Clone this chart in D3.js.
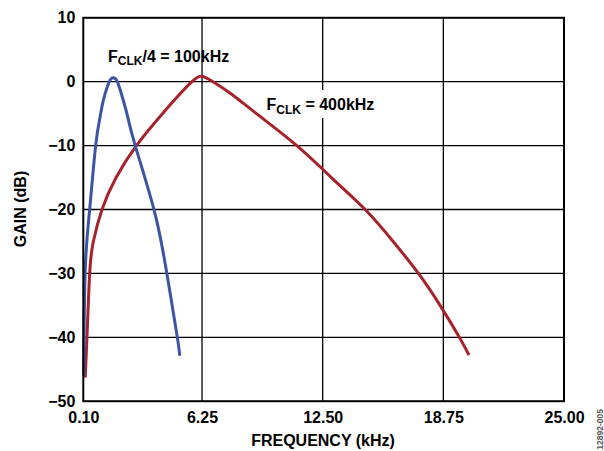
<!DOCTYPE html>
<html>
<head>
<meta charset="utf-8">
<script src="https://cdn.jsdelivr.net/npm/d3@7/dist/d3.min.js"></script>
<style>
  html, body { margin: 0; padding: 0; background: #fff; }
  svg { display: block; }
  text { font-family: "Liberation Sans", Arial, Helvetica, sans-serif; font-weight: bold; fill: #000; }
</style>
</head>
<body>
<svg id="chart" width="604" height="451"></svg>
<script>
// Axis ticks
const xTicks = [0.1, 6.25, 12.5, 18.75, 25];
const yTicks = [10, 0, -10, -20, -30, -40, -50];

// FCLK/4 = 100kHz response
const quarterFreq = [0.12, 0.20, 0.43, 0.74, 0.97, 1.14, 1.45, 1.65, 1.86, 2.17, 2.40, 2.79, 3.76, 4.40, 4.97, 5.09];
const quarterGain = [-46, -29.5, -20, -10, -5.5, -2.9, 0, 0.6, 0, -2.9, -5.5, -10, -20, -29.5, -40, -42.9];

// FCLK = 400kHz response
const fullFreq = [0.20, 0.29, 0.43, 0.62, 1.07, 1.80, 2.85, 4.20, 5.73, 6.32, 6.82, 7.80, 9.07, 11.16, 12.95, 14.70, 16.15, 17.46, 18.58, 19.58, 20.08];
const fullGain = [-46.3, -40, -30, -25, -20, -15, -10, -5, 0, 0.78, 0, -2.0, -5, -10, -15, -20, -25, -30, -35, -40, -42.8];

const svg = d3.select("#chart");
const m = { left: 83.3, right: 564, top: 17.8, bottom: 401.2 };

const x = d3.scaleLinear().domain([0.1, 25]).range([m.left, m.right]);
const y = d3.scaleLinear().domain([-50, 10]).range([m.bottom, m.top]);

// Grid
const grid = svg.append("g");
grid.selectAll("line.v").data(xTicks.slice(1, -1)).join("line")
  .attr("x1", d => x(d)).attr("x2", d => x(d))
  .attr("y1", m.top).attr("y2", m.bottom)
  .attr("stroke", "#000").attr("stroke-width", 1.3);
grid.selectAll("line.h").data(yTicks.slice(1, -1)).join("line")
  .attr("x1", m.left).attr("x2", m.right)
  .attr("y1", d => y(d)).attr("y2", d => y(d))
  .attr("stroke", "#000").attr("stroke-width", 1.3);

// Axes (labels only, frame drawn separately)
const xAxis = svg.append("g").attr("transform", `translate(0,${m.bottom})`)
  .call(d3.axisBottom(x).tickValues(xTicks).tickSize(0).tickPadding(10).tickFormat(d3.format(".2f")));
xAxis.select(".domain").remove();
xAxis.selectAll("text").attr("font-size", 16).attr("font-family", null).attr("dy", "0.71em");

const yAxis = svg.append("g").attr("transform", `translate(${m.left},0)`)
  .call(d3.axisLeft(y).tickValues(yTicks).tickSize(0).tickPadding(8)
    .tickFormat(d => d < 0 ? "\u2212" + Math.abs(d) : String(d)));
yAxis.select(".domain").remove();
yAxis.selectAll("text").attr("font-size", 16).attr("font-family", null);

// Label backing for the 400kHz annotation
svg.append("rect").attr("x", 262).attr("y", 90).attr("width", 120).attr("height", 28).attr("fill", "#fff");

// Curves
const line = d3.line().x(d => x(d[0])).y(d => y(d[1])).curve(d3.curveNatural);
svg.append("path").datum(fullFreq.map((f, i) => [f, fullGain[i]]))
  .attr("d", line).attr("fill", "none").attr("stroke", "#a7222b").attr("stroke-width", 3);
svg.append("path").datum(quarterFreq.map((f, i) => [f, quarterGain[i]]))
  .attr("d", line).attr("fill", "none").attr("stroke", "#3b55a5").attr("stroke-width", 3);

// Frame
svg.append("rect").attr("x", m.left).attr("y", m.top)
  .attr("width", m.right - m.left).attr("height", m.bottom - m.top)
  .attr("fill", "none").attr("stroke", "#000").attr("stroke-width", 2);

// Annotations with subscript CLK
function clkLabel(px, py, rest) {
  const t = svg.append("text").attr("x", px).attr("y", py).attr("font-size", 16);
  t.append("tspan").text("F");
  t.append("tspan").attr("font-size", 12).attr("dy", 3.5).text("CLK");
  t.append("tspan").attr("dy", -3.5).text(rest);
}
clkLabel(108, 61.5, "/4 = 100kHz");
clkLabel(266.5, 110, " = 400kHz");

// Axis titles
svg.append("text").attr("x", 323).attr("y", 446).attr("text-anchor", "middle")
  .attr("font-size", 16).text("FREQUENCY (kHz)");
svg.append("text").attr("transform", "translate(26,209) rotate(-90)")
  .attr("text-anchor", "middle").attr("font-size", 16).text("GAIN (dB)");

// Figure code
svg.append("text").attr("transform", "translate(603,409) rotate(-90)")
  .attr("text-anchor", "end").attr("font-size", 8.5).attr("font-weight", "normal")
  .style("fill", "#555").text("12892-005");
</script>
</body>
</html>
